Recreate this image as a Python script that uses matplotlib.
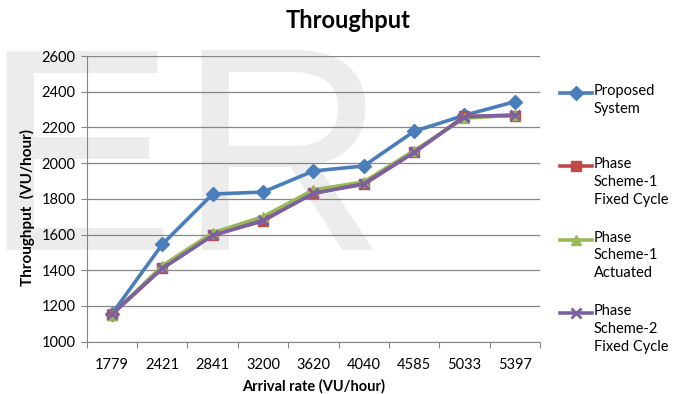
import matplotlib
matplotlib.use("Agg")
import matplotlib.pyplot as plt
from matplotlib.lines import Line2D

plt.rcParams['font.family'] = ['Lato', 'DejaVu Sans']

# arrival rates (VU/hour) on the x axis
arrival_rate = ['1779', '2421', '2841', '3200', '3620', '4040', '4585', '5033', '5397']

# throughput values per scheme (VU/hour)
proposed_system = [1155, 1545, 1827, 1838, 1956, 1984, 2178, 2268, 2344]
phase1_fixed = [1152, 1411, 1597, 1676, 1834, 1881, 2060, 2262, 2265]
phase1_actuated = [1150, 1425, 1610, 1700, 1850, 1895, 2070, 2252, 2268]
phase2_fixed = [1155, 1410, 1595, 1680, 1830, 1885, 2060, 2260, 2270]

y_ticks = [1000, 1200, 1400, 1600, 1800, 2000, 2200, 2400, 2600]

series = [
    ('Proposed\nSystem', proposed_system, '#4A7EBB', 'D', 7),
    ('Phase\nScheme-1\nFixed Cycle', phase1_fixed, '#BE4B48', 's', 7),
    ('Phase\nScheme-1\nActuated', phase1_actuated, '#98B954', '^', 7),
    ('Phase\nScheme-2\nFixed Cycle', phase2_fixed, '#7D60A0', 'x', 7),
]

W, H = 677, 394
fig = plt.figure(figsize=(W / 100, H / 100), dpi=100)

# faint background lettering
for letter, x in [('E', -18), ('R', 177)]:
    fig.text(x / W, (H - 250) / H, letter, fontsize=208, color='#ececec',
             family='Liberation Sans', va='baseline', ha='left', zorder=-1)

ax = fig.add_axes([86.7 / W, 1 - 341.7 / H, (540 - 86.7) / W, (341.7 - 56) / H])
ax.set_facecolor('none')

xs = list(range(len(arrival_rate)))
for label, vals, color, marker, ms in series:
    ax.plot(xs, vals, color=color, lw=2.6, marker=marker, ms=ms,
            mew=2 if marker == 'x' else 1, zorder=3, clip_on=False)

ax.set_xlim(-0.5, len(arrival_rate) - 0.5)
ax.set_ylim(1000, 2600)
ax.set_yticks(y_ticks)
ax.set_yticklabels([str(v) for v in y_ticks], fontsize=10.5)
ax.set_xticks([i - 0.5 for i in range(len(arrival_rate) + 1)])
ax.set_xticklabels([])
ax.set_xticks(xs, minor=True)
ax.set_xticklabels(arrival_rate, minor=True, fontsize=10.5)
ax.tick_params(axis='x', which='major', length=4, color='#868686')
ax.tick_params(axis='x', which='minor', length=0, pad=12)
ax.tick_params(axis='y', length=4, color='#868686', pad=4)
ax.grid(axis='y', color='#868686', lw=0.9)
ax.set_axisbelow(True)
for side in ['top', 'right']:
    ax.spines[side].set_visible(False)
for side in ['left', 'bottom']:
    ax.spines[side].set_color('#868686')

ax.set_xlabel('Arrival rate (VU/hour)', fontsize=10.5, fontweight='bold')
ax.xaxis.set_label_coords(0.5, -0.13)
ax.set_ylabel('Throughput  (VU/hour)', fontsize=11, fontweight='bold')
ax.yaxis.set_label_coords(-0.114, 0.471)
fig.text(348 / W, 1 - 20 / H, 'Throughput', fontsize=17, fontweight='bold',
         ha='center', va='center')

# legend drawn by hand so the handle sits on the first text line
for i, (label, vals, color, marker, ms) in enumerate(series):
    yy = 1 - (93 + i * 73.3) / H
    fig.add_artist(Line2D([560 / W, 592 / W], [yy, yy], color=color, lw=2.6))
    fig.add_artist(Line2D([576 / W], [yy], color=color, marker=marker, ms=ms,
                          mew=2 if marker == 'x' else 1))
    fig.text(594 / W, yy + 9 / H, label, fontsize=10.5, va='top', ha='left',
             linespacing=1.35)

fig.savefig('out.png', dpi=100)
